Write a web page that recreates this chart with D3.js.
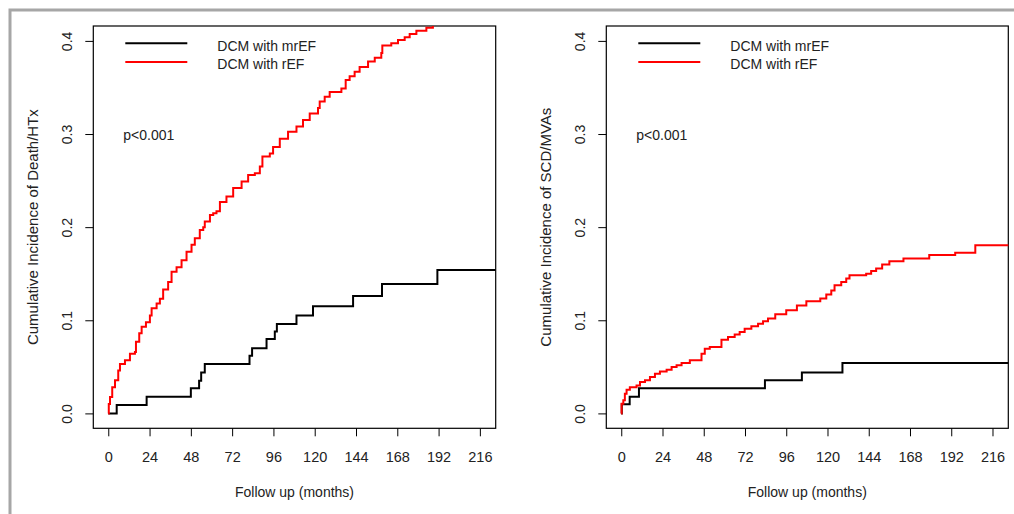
<!DOCTYPE html>
<html>
<head>
<meta charset="utf-8">
<script src="https://cdn.jsdelivr.net/npm/d3@7"></script>
<style>
  body { margin: 0; background: #fff; }
  text { font-family: "Liberation Sans", Arial, sans-serif; fill: #222; }
</style>
</head>
<body>
<svg id="chart" width="1014" height="514"></svg>
<script>
// ticks / labels
var xTicks = [0, 24, 48, 72, 96, 120, 144, 168, 192, 216];
var yTicks = [0, 0.1, 0.2, 0.3, 0.4];
var xTitle = "Follow up (months)";
var yTitles = ["Cumulative Incidence of Death/HTx", "Cumulative Incidence of SCD/MVAs"];
var legendLabels = ["DCM with mrEF", "DCM with rEF"];
var seriesColors = ["#000000", "#ff0000"];
var pLabel = "p<0.001";

// left panel: death / HTx
var deathMrefMonths = [0, 4.9, 22.3, 48, 52.8, 54, 56.1, 82.1, 83.6, 92, 96.8, 98, 109.4, 119, 142.3, 159.1, 191.3, 230];
var deathMrefValues = [0, 0.009, 0.018, 0.027, 0.035, 0.044, 0.053, 0.062, 0.070, 0.080, 0.088, 0.096, 0.105, 0.115, 0.126, 0.139, 0.154, 0.154];

var deathRefMonths = [0, 0.3, 1, 2.3, 3.9, 5.8, 6.8, 9.7, 12.6, 15.5, 16.1, 18, 19.4, 21.9, 24.2, 25.2, 28.1, 30, 31.9, 34.8,
  36.8, 39.7, 42.6, 45.5, 48.4, 50.3, 53.2, 55.2, 56.1, 59.1, 61, 62.9, 64.9, 68.7, 72.6, 77.5, 81.3, 85.2, 88.1, 89.6,
  93.9, 95.8, 99.7, 104.5, 109.4, 113.2, 117.1, 121.9, 122.9, 125.8, 128.7, 135.5, 138, 140.3, 143.2, 146.1, 151, 154.9,
  158.7, 159.3, 164.5, 168.4, 172.3, 175.2, 179.1, 184.9, 188.7, 196, 206, 230];
var deathRefValues = [0, 0.010, 0.0175, 0.028, 0.0355, 0.046, 0.053, 0.057, 0.064, 0.066, 0.077, 0.086, 0.093, 0.098, 0.105, 0.113, 0.118, 0.123, 0.133, 0.141,
  0.152, 0.157, 0.1645, 0.1735, 0.181, 0.188, 0.197, 0.200, 0.206, 0.213, 0.215, 0.217, 0.227, 0.233, 0.242, 0.249, 0.256, 0.258, 0.265, 0.276,
  0.279, 0.286, 0.295, 0.3025, 0.308, 0.315, 0.322, 0.328, 0.335, 0.340, 0.345, 0.349, 0.358, 0.362, 0.367, 0.372, 0.378, 0.382,
  0.387, 0.395, 0.3975, 0.401, 0.404, 0.4075, 0.411, 0.414, 0.417, 0.421, 0.426, 0.43];

// right panel: SCD / MVAs
var scdMrefMonths = [0, 0.3, 4.9, 10.3, 83.6, 105.1, 128.7, 230];
var scdMrefValues = [0, 0.0097, 0.018, 0.027, 0.0355, 0.044, 0.054, 0.054];

var scdRefMonths = [0, 0.2, 1.2, 2.1, 3.1, 5, 8.9, 10.9, 13.8, 16.7, 19.6, 22.5, 26.4, 29.3, 32.2, 35.1, 39.9, 46.7, 48.6,
  51.5, 58.3, 62.1, 66, 68.9, 71.8, 75.7, 79.6, 82.5, 85.4, 89.6, 96, 102.2, 107.7, 115.8, 119.3, 122.2, 124.1, 128,
  130.9, 132.8, 142.5, 145.4, 148.3, 151.8, 156, 164.2, 179.2, 194.3, 206, 230];
var scdRefValues = [0, 0.0104, 0.014, 0.021, 0.0255, 0.028, 0.030, 0.0337, 0.0355, 0.039, 0.0427, 0.045, 0.047, 0.0498, 0.0516, 0.054, 0.057, 0.064, 0.0695,
  0.0713, 0.079, 0.082, 0.0846, 0.0875, 0.091, 0.0935, 0.0964, 0.099, 0.1018, 0.1065, 0.1108, 0.116, 0.1204, 0.1233, 0.1276, 0.132, 0.1376, 0.141,
  0.1448, 0.1484, 0.150, 0.153, 0.1556, 0.16, 0.1634, 0.1663, 0.17, 0.1724, 0.1806, 0.1806];

var svg = d3.select("#chart");

// grey frame round the figure
svg.append("path")
  .attr("d", "M10,514 L10,10 L1014,10")
  .style("fill", "none")
  .style("stroke", "#a6a6a6")
  .style("stroke-width", 3);

function zip(months, values){
  return months.map(function(m, i){ return [m, values[i]]; });
}

function drawPanel(id, left, right, yTitle, series){
  var top = 26, bottom = 428.3;
  var x = d3.scaleLinear().domain([-8.7, 225.2]).range([left, right]);
  var y = d3.scaleLinear().domain([-0.016, 0.416]).range([bottom, top]);
  var g = svg.append("g");

  g.append("clipPath").attr("id", "clip" + id)
    .append("rect")
    .attr("x", left).attr("y", top)
    .attr("width", right - left).attr("height", bottom - top);

  // x axis
  var xa = g.append("g")
    .attr("transform", "translate(0," + bottom + ")")
    .call(d3.axisBottom(x).tickValues(xTicks).tickSize(8).tickSizeOuter(0).tickPadding(15));
  xa.select(".domain").remove();
  xa.selectAll("text").style("font-size", "14.5px").style("fill", "#222");

  // y axis, labels parallel to the axis
  var ya = g.append("g")
    .attr("transform", "translate(" + left + ",0)")
    .call(d3.axisLeft(y).tickValues(yTicks).tickSize(8).tickSizeOuter(0).tickFormat(d3.format(".1f")));
  ya.select(".domain").remove();
  ya.selectAll("text")
    .attr("x", 0)
    .attr("dy", null)
    .attr("text-anchor", "middle")
    .attr("transform", "translate(-21.5,0) rotate(-90)")
    .style("font-size", "14px").style("fill", "#222");

  // box
  g.append("rect")
    .attr("x", left).attr("y", top)
    .attr("width", right - left).attr("height", bottom - top)
    .style("fill", "none").style("stroke", "#000").style("stroke-width", 1.2);

  // titles
  g.append("text")
    .attr("x", (left + right) / 2).attr("y", 497)
    .attr("text-anchor", "middle")
    .style("font-size", "14px")
    .text(xTitle);
  g.append("text")
    .attr("transform", "translate(" + (left - 55.5) + "," + ((top + bottom) / 2) + ") rotate(-90)")
    .attr("text-anchor", "middle")
    .style("font-size", "15px")
    .text(yTitle);

  // curves
  var line = d3.line()
    .x(function(d){ return x(d[0]); })
    .y(function(d){ return y(d[1]); })
    .curve(d3.curveStepAfter);
  series.forEach(function(s, i){
    g.append("path")
      .datum(s)
      .attr("d", line)
      .attr("clip-path", "url(#clip" + id + ")")
      .style("fill", "none")
      .style("stroke", seriesColors[i])
      .style("stroke-width", 2);
  });

  // legend
  var lx = left + 32;
  legendLabels.forEach(function(lab, i){
    var ly = 43.3 + i * 18.7;
    g.append("line")
      .attr("x1", lx).attr("x2", lx + 62)
      .attr("y1", ly).attr("y2", ly)
      .style("stroke", seriesColors[i])
      .style("stroke-width", 2);
    g.append("text")
      .attr("x", lx + 92).attr("y", ly + 7.2)
      .style("font-size", "14px")
      .text(lab);
  });

  g.append("text")
    .attr("x", left + 30).attr("y", 140)
    .style("font-size", "14px")
    .text(pLabel);
}

drawPanel(1, 93.3, 495.7, yTitles[0], [zip(deathMrefMonths, deathMrefValues), zip(deathRefMonths, deathRefValues)]);
drawPanel(2, 606.3, 1008.3, yTitles[1], [zip(scdMrefMonths, scdMrefValues), zip(scdRefMonths, scdRefValues)]);
</script>
</body>
</html>
